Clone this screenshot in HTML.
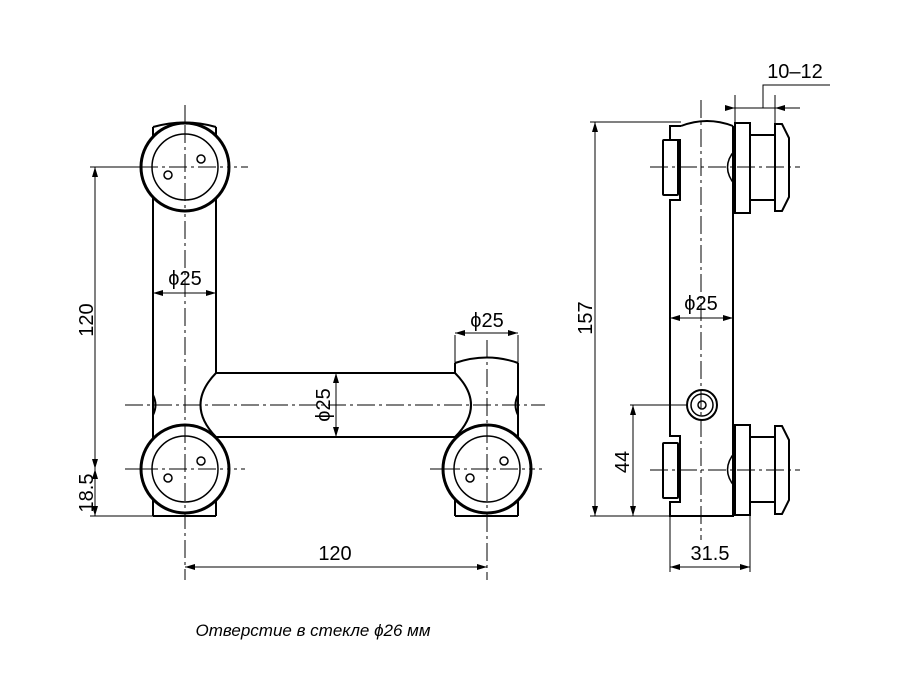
<!DOCTYPE html>
<html><head><meta charset="utf-8"><style>body{margin:0;background:#fff}svg{display:block}</style></head><body>
<svg width="900" height="700" viewBox="0 0 900 700" xmlns="http://www.w3.org/2000/svg" font-family="Liberation Sans, sans-serif">
<defs>
<marker id="a" viewBox="0 0 10 6" refX="10" refY="3" markerWidth="10" markerHeight="6" orient="auto-start-reverse" markerUnits="userSpaceOnUse"><path d="M0,0L10,3L0,6z" fill="#000"/></marker>
</defs>
<g fill="none" stroke="#000">
<!-- center lines -->
<g stroke-width="1" stroke-dasharray="18,4,3,4">
<line x1="185" y1="105" x2="185" y2="580"/>
<line x1="487" y1="340" x2="487" y2="580"/>
<line x1="125" y1="167" x2="248" y2="167"/>
<line x1="125" y1="405" x2="545" y2="405"/>
<line x1="125" y1="469" x2="245" y2="469"/>
<line x1="430" y1="469" x2="545" y2="469"/>
<line x1="701" y1="100" x2="701" y2="540"/>
<line x1="650" y1="167" x2="800" y2="167"/>
<line x1="650" y1="470" x2="800" y2="470"/>
</g>
<!-- left body -->
<g stroke-width="2">
<path d="M153,516V395Q158,405 153,415M153,395V127M216,127V373H455V363M518,363V516M455,516V490M216,516V490"/>
<path d="M153,127Q185,118 216,127"/>
<path d="M455,363Q487,352 518,363"/>
<path d="M216,373Q185,405 216,437M455,373Q487,405 455,437"/>
<line x1="216" y1="437" x2="455" y2="437"/>
<line x1="153" y1="516" x2="216" y2="516"/>
<line x1="455" y1="516" x2="518" y2="516"/>
<path d="M518,395Q513,405 518,415"/>
</g>
<g fill="#fff">
<circle cx="185" cy="167" r="44" stroke-width="3"/>
<circle cx="185" cy="167" r="33" stroke-width="1.5"/>
<circle cx="185" cy="469" r="44" stroke-width="3"/>
<circle cx="185" cy="469" r="33" stroke-width="1.5"/>
<circle cx="487" cy="469" r="44" stroke-width="3"/>
<circle cx="487" cy="469" r="33" stroke-width="1.5"/>
</g>
<g stroke-width="1" stroke-dasharray="18,4,3,4">
<line x1="185" y1="125" x2="185" y2="210"/><line x1="140" y1="167" x2="230" y2="167"/>
<line x1="185" y1="425" x2="185" y2="515"/><line x1="140" y1="469" x2="230" y2="469"/>
<line x1="487" y1="425" x2="487" y2="515"/><line x1="442" y1="469" x2="532" y2="469"/>
</g>
<g stroke-width="1.5">
<circle cx="168" cy="175" r="4"/><circle cx="201" cy="159" r="4"/>
<circle cx="168" cy="478" r="4"/><circle cx="201" cy="461" r="4"/>
<circle cx="470" cy="478" r="4"/><circle cx="504" cy="461" r="4"/>
</g>
<!-- right body -->
<g stroke-width="2">
<path d="M681,126H670V140H680V200H670V436H680V502H670V516H733V126"/>
<path d="M681,126Q707,116 733,126"/>
<rect x="663" y="140" width="15" height="55" rx="1"/>
<rect x="663" y="443" width="15" height="55" rx="1"/>
<rect x="735" y="123" width="15" height="90"/>
<rect x="750" y="135" width="25" height="65"/>
<path d="M775,124H782L789,138V197L782,211H775Z"/>
<rect x="735" y="425" width="15" height="90"/>
<rect x="750" y="437" width="25" height="65"/>
<path d="M775,426H782L789,440V500L782,514H775Z"/>
<path d="M735,150Q720,167 735,185M735,452Q720,470 735,487" stroke-width="1.5"/>
</g>
<circle cx="702" cy="405" r="15" stroke-width="2"/>
<circle cx="702" cy="405" r="11" stroke-width="1.5"/>
<circle cx="702" cy="405" r="4" stroke-width="1.5"/>
<!-- dimensions -->
<g stroke-width="1">
<line x1="90" y1="167" x2="140" y2="167"/>
<line x1="90" y1="516" x2="153" y2="516"/>
<line x1="95" y1="167" x2="95" y2="469" marker-start="url(#a)" marker-end="url(#a)"/>
<line x1="95" y1="469" x2="95" y2="516" marker-start="url(#a)" marker-end="url(#a)"/>
<line x1="185" y1="567" x2="487" y2="567" marker-start="url(#a)" marker-end="url(#a)"/>
<line x1="153" y1="293" x2="216" y2="293" marker-start="url(#a)" marker-end="url(#a)"/>
<line x1="455" y1="335" x2="455" y2="363"/><line x1="518" y1="335" x2="518" y2="363"/>
<line x1="455" y1="333" x2="518" y2="333" marker-start="url(#a)" marker-end="url(#a)"/>
<line x1="336" y1="373" x2="336" y2="437" marker-start="url(#a)" marker-end="url(#a)"/>
<line x1="590" y1="122" x2="681" y2="122"/>
<line x1="590" y1="516" x2="670" y2="516"/>
<line x1="595" y1="122" x2="595" y2="516" marker-start="url(#a)" marker-end="url(#a)"/>
<line x1="630" y1="405" x2="688" y2="405"/>
<line x1="633" y1="405" x2="633" y2="516" marker-start="url(#a)" marker-end="url(#a)"/>
<line x1="670" y1="516" x2="670" y2="572"/><line x1="750" y1="515" x2="750" y2="572"/>
<line x1="670" y1="567" x2="750" y2="567" marker-start="url(#a)" marker-end="url(#a)"/>
<line x1="670" y1="318" x2="733" y2="318" marker-start="url(#a)" marker-end="url(#a)"/>
<line x1="735" y1="95" x2="735" y2="123"/><line x1="775" y1="95" x2="775" y2="124"/>
<line x1="725" y1="108" x2="735" y2="108" marker-end="url(#a)"/>
<line x1="800" y1="108" x2="775" y2="108" marker-end="url(#a)"/>
<line x1="735" y1="108" x2="775" y2="108"/>
<polyline points="763,108 763,85 830,85"/>
</g>
</g>
<g font-size="20" fill="#000">
<text x="93" y="320" transform="rotate(-90 93 320)" text-anchor="middle">120</text>
<text x="93" y="493" transform="rotate(-90 93 493)" text-anchor="middle">18.5</text>
<text x="335" y="560" text-anchor="middle">120</text>
<text x="185" y="285" text-anchor="middle">ϕ25</text>
<text x="487" y="327" text-anchor="middle">ϕ25</text>
<text x="330" y="405" transform="rotate(-90 330 405)" text-anchor="middle">ϕ25</text>
<text x="592" y="318" transform="rotate(-90 592 318)" text-anchor="middle">157</text>
<text x="629" y="462" transform="rotate(-90 629 462)" text-anchor="middle">44</text>
<text x="701" y="310" text-anchor="middle">ϕ25</text>
<text x="710" y="560" text-anchor="middle">31.5</text>
<text x="795" y="78" text-anchor="middle">10–12</text>
<text x="313" y="636" text-anchor="middle" font-size="17" font-style="italic">Отверстие в стекле ϕ26 мм</text>
</g>
</svg>
</body></html>
